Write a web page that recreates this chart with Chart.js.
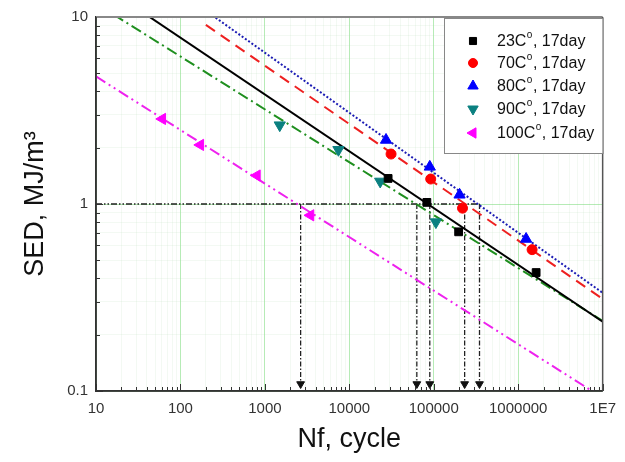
<!DOCTYPE html>
<html>
<head>
<meta charset="utf-8">
<script src="https://cdn.jsdelivr.net/npm/chart.js@4.4.0/dist/chart.umd.min.js"></script>
<style>
html,body{margin:0;padding:0;background:#fff}
</style>
</head>
<body>
<canvas id="sed" width="625" height="462"></canvas>
<script>
// tick labels, one per decade
const xTickLabels = ['10', '100', '1000', '10000', '100000', '1000000', '1E7']
const yTickLabels = ['0.1', '1', '10']

const names = ['23C°, 17day', '70C°, 17day', '80C°, 17day', '90C°, 17day', '100C°, 17day']

// test points (Nf, SED)
const n23 = [28800, 82800, 197000, 1630000]
const s23 = [1.37, 1.02, 0.71, 0.43]
const n70 = [31200, 92000, 219000, 1460000]
const s70 = [1.85, 1.36, 0.95, 0.57]
const n80 = [27200, 89700, 202000, 1240000]
const s80 = [2.2, 1.58, 1.12, 0.65]
const n90 = [1500, 7430, 23200, 106000]
const s90 = [2.64, 1.95, 1.32, 0.80]
const n100 = [61, 172, 805, 3470]
const s100 = [2.85, 2.07, 1.42, 0.87]

// fitted lines, end points
const fit23N = [10, 10000000]
const fit23S = [15.6, 0.235]
const fit70N = [200, 10000000]
const fit70S = [9.07, 0.311]
const fit80N = [200, 10000000]
const fit80S = [10.8, 0.335]
const fit90N = [10, 10000000]
const fit90S = [11.8, 0.237]
const fit100N = [10, 10000000]
const fit100S = [4.81, 0.092]

// SED = 1 guide line and the cycles where the fits cross it
const guideN = [10, 348000]
const guideS = [1, 1]
const dropN = [2650, 63000, 89700, 232000, 348000]
const dropS = [1, 0.109]

const isDecade = v => {
  const l = Math.log10(v)
  return Math.abs(l - Math.round(l)) < 1e-6
}
const pts = (xs, ys) => xs.map((x, i) => ({x: x, y: ys[i]}))

Chart.defaults.font.family = "'Liberation Sans', Arial, sans-serif"

const markers = [
  {style: 'rect', rot: 0, r: 5.5, color: '#000000'},
  {style: 'circle', rot: 0, r: 5, color: '#ff0000'},
  {style: 'triangle', rot: 0, r: 6.5, color: '#0000ff'},
  {style: 'triangle', rot: 180, r: 6.5, color: '#0b8080'},
  {style: 'triangle', rot: -90, r: 6.5, color: '#ff00ff'}
]
const pointSets = [[n23, s23], [n70, s70], [n80, s80], [n90, s90], [n100, s100]]

let datasets = pointSets.map((p, i) => ({
  label: names[i],
  data: pts(p[0], p[1]),
  pointStyle: markers[i].style,
  rotation: markers[i].rot,
  pointRadius: markers[i].r,
  backgroundColor: markers[i].color,
  borderColor: markers[i].color,
  borderWidth: 1,
  showLine: false
}))

function fitLine(xs, ys, color, dash) {
  return {
    data: pts(xs, ys),
    showLine: true,
    pointRadius: 0,
    borderColor: color,
    borderWidth: 2,
    borderDash: dash,
    fill: false
  }
}
datasets.push(fitLine(fit23N, fit23S, '#000000', []))
datasets.push(fitLine(fit70N, fit70S, '#ee2020', [11, 7]))
datasets.push(fitLine(fit80N, fit80S, '#1c1cb4', [2, 2]))
datasets.push(fitLine(fit90N, fit90S, '#1f8f1f', [11, 4, 2, 4]))
datasets.push(fitLine(fit100N, fit100S, '#ee22ee', [11, 4, 2, 4, 2, 4]))

let guide = fitLine(guideN, guideS, '#222222', [6, 2, 1.5, 2, 1.5, 2])
guide.borderWidth = 1.3
datasets.push(guide)

dropN.forEach(n => {
  datasets.push({
    data: [{x: n, y: dropS[0]}, {x: n, y: dropS[1]}],
    showLine: true,
    borderColor: '#222222',
    borderWidth: 1.3,
    borderDash: [5, 2, 1.5, 2],
    pointRadius: [0, 4.5],
    pointStyle: 'triangle',
    rotation: 180,
    pointBackgroundColor: '#111111',
    pointBorderColor: '#111111',
    pointBorderWidth: 1
  })
})

const keepInt = scale => {
  scale.ticks = scale.ticks.filter(t => {
    const m = t.value / Math.pow(10, Math.floor(Math.log10(t.value) + 1e-9))
    return Math.abs(m - Math.round(m)) < 1e-6
  })
}

const frame = {
  id: 'frame',
  afterDraw(chart) {
    const {ctx, chartArea: a, scales} = chart
    const x = scales.x, y = scales.y
    ctx.save()
    ctx.strokeStyle = '#333'
    ctx.lineWidth = 1
    x.ticks.forEach(t => {
      const px = Math.round(x.getPixelForValue(t.value)) + 0.5
      const len = isDecade(t.value) ? 7 : 4
      ctx.beginPath(); ctx.moveTo(px, a.bottom); ctx.lineTo(px, a.bottom - len); ctx.stroke()
    })
    y.ticks.forEach(t => {
      const py = Math.round(y.getPixelForValue(t.value)) + 0.5
      const len = isDecade(t.value) ? 7 : 4
      ctx.beginPath(); ctx.moveTo(a.left, py); ctx.lineTo(a.left + len, py); ctx.stroke()
    })
    // box round the plot
    ctx.lineWidth = 2
    ctx.strokeStyle = '#888'
    ctx.beginPath(); ctx.moveTo(a.left, a.top); ctx.lineTo(a.right, a.top); ctx.stroke()
    ctx.lineWidth = 1.5
    ctx.strokeStyle = '#555'
    ctx.beginPath(); ctx.moveTo(a.right, a.top); ctx.lineTo(a.right, a.bottom); ctx.stroke()
    ctx.strokeStyle = '#333'
    ctx.beginPath(); ctx.moveTo(a.left, a.top); ctx.lineTo(a.left, a.bottom); ctx.lineTo(a.right, a.bottom); ctx.stroke()

    // legend
    const lx = 444, ly = a.top + 1, lw = a.right - lx, lh = 135
    ctx.fillStyle = '#fff'
    ctx.fillRect(lx, ly, lw, lh)
    ctx.strokeStyle = '#888'
    ctx.lineWidth = 1
    ctx.strokeRect(lx + 0.5, ly + 0.5, lw, lh)
    const rows = [41, 63, 86, 109, 133]
    names.forEach((name, i) => {
      const m = markers[i]
      ctx.fillStyle = m.color
      ctx.strokeStyle = m.color
      Chart.helpers.drawPoint(ctx, {pointStyle: m.style, rotation: m.rot, radius: m.r - 0.5, borderWidth: 1}, 473, rows[i])
      const parts = name.split('°')
      ctx.fillStyle = '#111'
      ctx.textBaseline = 'middle'
      ctx.textAlign = 'left'
      ctx.font = "16px 'Liberation Sans', Arial, sans-serif"
      let tx = 497
      ctx.fillText(parts[0], tx, rows[i] + 1)
      tx += ctx.measureText(parts[0]).width + 0.5
      ctx.font = "10px 'Liberation Sans', Arial, sans-serif"
      ctx.fillText('o', tx, rows[i] - 6)
      tx += ctx.measureText('o').width + 0.5
      ctx.font = "16px 'Liberation Sans', Arial, sans-serif"
      ctx.fillText(parts[1], tx, rows[i] + 1)
    })
    ctx.restore()
  }
}

const gridColor = c => (c.tick && isDecade(c.tick.value)) ? 'rgba(110,215,110,0.5)' : 'rgba(170,215,170,0.14)'

new Chart(document.getElementById('sed'), {
  type: 'scatter',
  data: {datasets: datasets},
  options: {
    responsive: false,
    devicePixelRatio: 1,
    animation: false,
    layout: {padding: {top: 14, right: 19, left: 0, bottom: 0}},
    plugins: {legend: {display: false}, tooltip: {enabled: false}},
    scales: {
      x: {
        type: 'logarithmic',
        min: 10,
        max: 10000000,
        afterBuildTicks: keepInt,
        afterFit: s => { s.height = 71 },
        grid: {color: gridColor, drawTicks: false, lineWidth: 1},
        border: {color: '#333', width: 1.5},
        ticks: {
          autoSkip: false,
          maxRotation: 0,
          padding: 9,
          color: '#333',
          font: {size: 15},
          callback: v => isDecade(v) ? xTickLabels[Math.round(Math.log10(v)) - 1] : ''
        },
        title: {
          display: true,
          text: 'Nf, cycle',
          color: '#111',
          font: {size: 27},
          padding: {top: 0, bottom: 6}
        }
      },
      y: {
        type: 'logarithmic',
        min: 0.1,
        max: 10,
        afterBuildTicks: keepInt,
        afterFit: s => { s.width = 96 },
        grid: {color: gridColor, drawTicks: false, lineWidth: 1},
        border: {color: '#333', width: 1.5},
        ticks: {
          autoSkip: false,
          padding: 8,
          color: '#333',
          font: {size: 15},
          callback: v => isDecade(v) ? yTickLabels[Math.round(Math.log10(v)) + 1] : ''
        },
        title: {
          display: true,
          text: 'SED, MJ/m³',
          color: '#111',
          font: {size: 27},
          padding: {top: 19, bottom: 0}
        }
      }
    }
  },
  plugins: [frame]
})
</script>
</body>
</html>
